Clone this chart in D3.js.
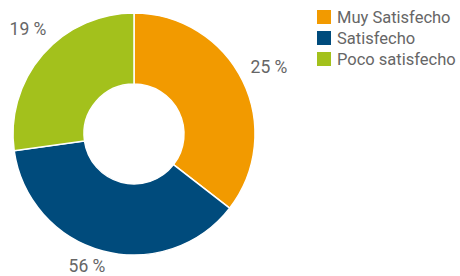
<!DOCTYPE html>
<html>
<head>
<meta charset="utf-8">
<script src="https://cdn.jsdelivr.net/npm/d3@7"></script>
<style>
  body { margin: 0; background: #fff; }
  svg text { font-family: Roboto, "Liberation Sans", sans-serif; fill: #666; }
</style>
</head>
<body>
<script>
// slice sizes as drawn (share of the ring), and the printed labels
const categories = ['Muy Satisfecho', 'Satisfecho', 'Poco satisfecho'];
const sliceValues = [35.5, 37.3, 27.2];
const valueLabels = ['25 %', '56 %', '19 %'];
const colors = ['#f29a00', '#004b7c', '#a3c11c'];

const WIDTH = 460;
const HEIGHT = 276;
const CX = 134;
const CY = 134;
const R_OUTER = 121;
const R_INNER = 50;

const svg = d3.select('body')
  .append('svg')
    .attr('width', WIDTH)
    .attr('height', HEIGHT);

const pie = d3.pie().sort(null).value(d => d);
const arcs = pie(sliceValues);

const arc = d3.arc().innerRadius(R_INNER).outerRadius(R_OUTER);

const g = svg.append('g')
    .attr('transform', `translate(${CX}, ${CY})`);

g.selectAll('path')
  .data(arcs)
  .enter()
  .append('path')
    .attr('d', arc)
    .attr('fill', (d, i) => colors[i])
    .attr('stroke', '#fff')
    .attr('stroke-width', 1.5);

// value labels sit outside the ring
const labelPos = [[269, 73], [87, 272], [28, 35]];
g.selectAll('text.value')
  .data(arcs)
  .enter()
  .append('text')
    .attr('class', 'value')
    .attr('x', (d, i) => labelPos[i][0] - CX)
    .attr('y', (d, i) => labelPos[i][1] - CY)
    .attr('text-anchor', 'middle')
    .style('font-size', '17.5px')
    .text((d, i) => valueLabels[i]);

// legend
const legend = svg.append('g')
    .attr('transform', 'translate(317, 10)');

const rows = legend.selectAll('g')
  .data(categories)
  .enter()
  .append('g')
    .attr('transform', (d, i) => `translate(0, ${i * 21})`);

rows.append('rect')
    .attr('width', 14)
    .attr('height', 14)
    .attr('fill', (d, i) => colors[i]);

rows.append('text')
    .attr('x', 20)
    .attr('y', 13)
    .style('font-size', '16.5px')
    .text(d => d);
</script>
</body>
</html>
